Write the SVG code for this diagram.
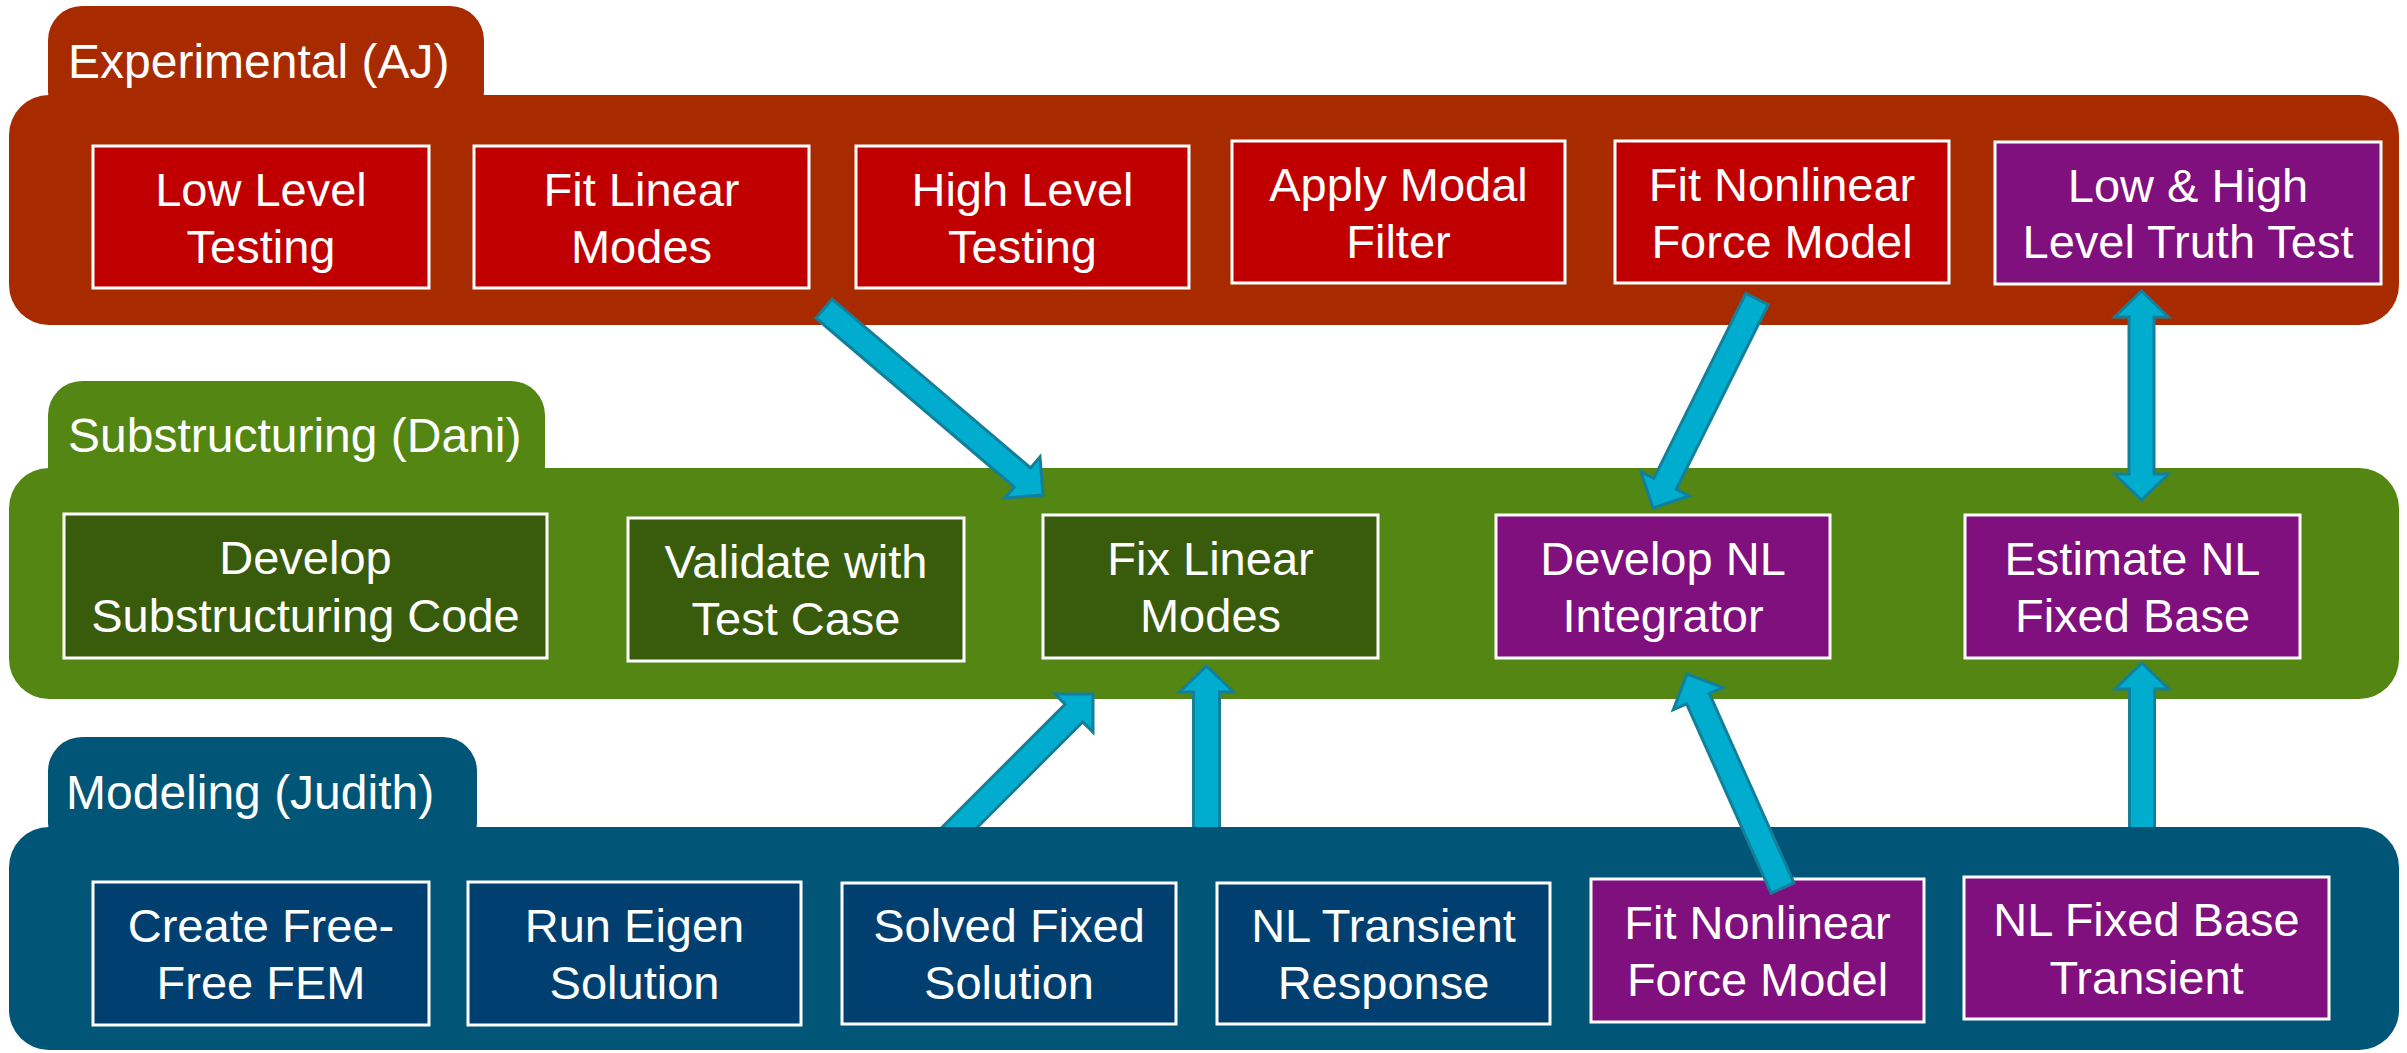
<svg xmlns="http://www.w3.org/2000/svg" width="2407" height="1053" viewBox="0 0 2407 1053">
<style>
text{font-family:"Liberation Sans",Arial,sans-serif;font-size:47px;fill:#fff;}
.tab{font-size:48px;}
.c{text-anchor:middle;}
.box{stroke:#fff;stroke-width:3;}
.red{fill:#C00000;}
.pur{fill:#7F107E;}
.dg{fill:#395C0C;}
.db{fill:#003F6F;}
.arr{fill:#00ADCF;stroke:#12809B;stroke-width:3;stroke-linejoin:miter;}
</style>
<defs>
<clipPath id="aboveModel"><rect x="0" y="0" width="2407" height="827"/></clipPath>
</defs>
<g id="panels">
<g id="panel-experimental" fill="#A82B00">
<rect x="48" y="6" width="436" height="120" rx="34" ry="34"/>
<rect x="9" y="95" width="2390" height="230" rx="40" ry="40"/>
<text class="tab" x="68" y="78">Experimental (AJ)</text>
</g>
<g id="panel-substructuring" fill="#538612">
<rect x="48" y="381" width="497" height="120" rx="34" ry="34"/>
<rect x="9" y="468" width="2390" height="231" rx="40" ry="40"/>
<text class="tab" x="68" y="452">Substructuring (Dani)</text>
</g>
<g id="panel-modeling" fill="#015577">
<rect x="48" y="737" width="429" height="120" rx="34" ry="34"/>
<rect x="9" y="827" width="2390" height="223" rx="40" ry="40"/>
<text class="tab" x="66" y="809">Modeling (Judith)</text>
</g>
</g>
<g id="nodes">
<g id="low-level-testing"><rect class="box red" x="93" y="146" width="336" height="142"/><text class="c" x="261" y="206">Low Level</text><text class="c" x="261" y="263">Testing</text></g>
<g id="fit-linear-modes"><rect class="box red" x="474" y="146" width="335" height="142"/><text class="c" x="641.5" y="206">Fit Linear</text><text class="c" x="641.5" y="263">Modes</text></g>
<g id="high-level-testing"><rect class="box red" x="856" y="146" width="333" height="142"/><text class="c" x="1022.5" y="206">High Level</text><text class="c" x="1022.5" y="263">Testing</text></g>
<g id="apply-modal-filter"><rect class="box red" x="1232" y="141" width="333" height="142"/><text class="c" x="1398.5" y="201">Apply Modal</text><text class="c" x="1398.5" y="258">Filter</text></g>
<g id="fit-nonlinear-exp"><rect class="box red" x="1615" y="141" width="334" height="142"/><text class="c" x="1782" y="201">Fit Nonlinear</text><text class="c" x="1782" y="258">Force Model</text></g>
<g id="truth-test"><rect class="box pur" x="1995" y="142" width="386" height="142"/><text class="c" x="2188" y="202">Low &amp; High</text><text class="c" x="2188" y="258">Level Truth Test</text></g>

<g id="develop-substructuring"><rect class="box dg" x="64" y="514" width="483" height="144"/><text class="c" x="305.5" y="574">Develop</text><text class="c" x="305.5" y="632">Substructuring Code</text></g>
<g id="validate-test-case"><rect class="box dg" x="628" y="518" width="336" height="143"/><text class="c" x="796" y="578">Validate with</text><text class="c" x="796" y="635">Test Case</text></g>
<g id="fix-linear-modes"><rect class="box dg" x="1043" y="515" width="335" height="143"/><text class="c" x="1210.5" y="575">Fix Linear</text><text class="c" x="1210.5" y="632">Modes</text></g>
<g id="develop-nl-integrator"><rect class="box pur" x="1496" y="515" width="334" height="143"/><text class="c" x="1663" y="575">Develop NL</text><text class="c" x="1663" y="632">Integrator</text></g>
<g id="estimate-nl-fixed-base"><rect class="box pur" x="1965" y="515" width="335" height="143"/><text class="c" x="2132.5" y="575">Estimate NL</text><text class="c" x="2132.5" y="632">Fixed Base</text></g>

<g id="create-fem"><rect class="box db" x="93" y="882" width="336" height="143"/><text class="c" x="261" y="942">Create Free-</text><text class="c" x="261" y="999">Free FEM</text></g>
<g id="run-eigen"><rect class="box db" x="468" y="882" width="333" height="143"/><text class="c" x="634.5" y="942">Run Eigen</text><text class="c" x="634.5" y="999">Solution</text></g>
<g id="solved-fixed"><rect class="box db" x="842" y="883" width="334" height="141"/><text class="c" x="1009" y="942">Solved Fixed</text><text class="c" x="1009" y="999">Solution</text></g>
<g id="nl-transient"><rect class="box db" x="1217" y="883" width="333" height="141"/><text class="c" x="1383.5" y="942">NL Transient</text><text class="c" x="1383.5" y="999">Response</text></g>
<g id="fit-nonlinear-model"><rect class="box pur" x="1591" y="879" width="333" height="143"/><text class="c" x="1757.5" y="939">Fit Nonlinear</text><text class="c" x="1757.5" y="996">Force Model</text></g>
<g id="nl-fixed-base-transient"><rect class="box pur" x="1964" y="877" width="365" height="142"/><text class="c" x="2146.5" y="936">NL Fixed Base</text><text class="c" x="2146.5" y="994">Transient</text></g>
</g>
<g id="connectors">
<polygon class="arr" points="815.9,318 1014.3,487 1004.9,498 1043,495 1040,456.9 1030.6,468 832.1,299"/>
<polygon class="arr" points="1745.8,293.4 1653.8,478.3 1640.9,471.8 1653,508 1689.2,495.9 1676.2,489.4 1768.2,304.6"/>
<polygon class="arr" points="2141.5,291 2168.5,317 2154,317 2154,474 2168.5,474 2141.5,500 2114.5,474 2129,474 2129,317 2114.5,317"/>
<polygon class="arr" clip-path="url(#aboveModel)" points="928.8,875.8 1082.7,721.9 1093,732.2 1093,694 1054.8,694 1065.1,704.3 911.2,858.2"/>
<polygon class="arr" clip-path="url(#aboveModel)" points="1206.5,666 1233.5,692 1219.5,692 1219.5,860 1193.5,860 1193.5,692 1179.5,692"/>
<polygon class="arr" points="1793.9,882.9 1709.4,693.6 1722.7,687.7 1687,674 1673.3,709.7 1686.6,703.8 1771.1,893.1"/>
<polygon class="arr" clip-path="url(#aboveModel)" points="2142,663 2169,689 2154.5,689 2154.5,860 2129.5,860 2129.5,689 2115,689"/>
</g>
</svg>
